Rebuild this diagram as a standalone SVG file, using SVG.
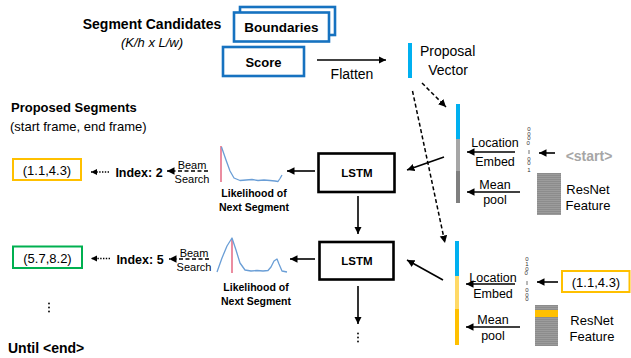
<svg xmlns="http://www.w3.org/2000/svg" width="631" height="358" viewBox="0 0 631 358">
  <style>
    text { font-family: "Liberation Sans", Arial, sans-serif; fill: #000; }
    .b { font-weight: bold; }
    .t14 { font-size: 14px; }
    .t13 { font-size: 13px; }
    .t11 { font-size: 11px; }
    .lbl { font-size: 12.5px; }
    .mid { text-anchor: middle; }
    .bluebox { fill: #fff; stroke: #1672C0; stroke-width: 2.6; }
    .lstm { fill: #fff; stroke: #000; stroke-width: 2.6; }
    .arr { stroke: #000; stroke-width: 1.6; fill: none; marker-end: url(#ah); }
    .dash { stroke: #000; stroke-width: 1.5; fill: none; stroke-dasharray: 4 2.5; marker-end: url(#ah); }
    .dot { stroke: #000; stroke-width: 1.4; fill: none; stroke-dasharray: 1.4 1.4; marker-end: url(#ahs); }
    .curve { fill: none; stroke: #6A9ED6; stroke-width: 1.3; stroke-linejoin: round; }
    .peak { stroke: #E0506E; stroke-width: 1.3; }
    .bits { font-family: "Liberation Sans", Arial, sans-serif; font-size: 6px; fill: #333; text-anchor: middle; }
    .vdots { fill: #000; }
  </style>
  <defs>
    <marker id="ah" markerUnits="userSpaceOnUse" markerWidth="9" markerHeight="8" refX="7.5" refY="3.75" orient="auto">
      <path d="M0,0 L7.5,3.75 L0,7.5 Z" fill="#000"/>
    </marker>
    <marker id="ahs" markerUnits="userSpaceOnUse" markerWidth="7" markerHeight="7" refX="6" refY="3" orient="auto">
      <path d="M0,0 L6,3 L0,6 Z" fill="#000"/>
    </marker>
    <pattern id="stripes" patternUnits="userSpaceOnUse" width="4" height="2">
      <rect width="4" height="2" fill="#8C8C8C"/>
      <rect width="4" height="0.7" fill="#A3A3A3"/>
    </pattern>
  </defs>

  <!-- segment candidate maps -->
  <g id="segment-candidates">
    <text class="b t14 mid" x="152" y="29">Segment Candidates</text>
    <text class="t13 mid" x="152" y="47" font-style="italic">(K/h x L/w)</text>
  </g>
  <g id="boundaries">
    <rect class="bluebox" x="240" y="7" width="95" height="28"/>
    <rect class="bluebox" x="234" y="12.5" width="95" height="29"/>
    <text class="b mid" font-size="13.5" x="281.5" y="32">Boundaries</text>
  </g>
  <g id="score">
    <rect class="bluebox" x="223" y="47" width="81" height="29"/>
    <text class="b t13 mid" x="263.5" y="66.5">Score</text>
  </g>

  <!-- flattened proposal vector -->
  <g id="proposal-vector">
    <rect x="408" y="43" width="4" height="35" fill="#00B0F0"/>
    <text class="t14" x="420" y="56">Proposal</text>
    <text class="t14 mid" x="448" y="75">Vector</text>
  </g>

  <!-- output column -->
  <g id="proposed-segments">
    <text class="b t13" x="11" y="112">Proposed Segments</text>
    <text class="t13" x="10" y="130.5">(start frame, end frame)</text>
  </g>
  <g id="segment-1">
    <rect x="13" y="159" width="68" height="21" fill="#fff" stroke="#FFC000" stroke-width="2"/>
    <text class="t13 mid" x="47" y="175">(1.1,4.3)</text>
  </g>
  <g id="segment-2">
    <rect x="13" y="246.5" width="69" height="21.5" fill="#fff" stroke="#00B050" stroke-width="2"/>
    <text class="t13 mid" x="47.5" y="262.5">(5.7,8.2)</text>
  </g>
  <g id="more-segments">
    <circle class="vdots" cx="49" cy="303.5" r="0.9"/>
    <circle class="vdots" cx="49" cy="307.5" r="0.9"/>
    <circle class="vdots" cx="49" cy="311.5" r="0.9"/>
  </g>
  <g id="until-end">
    <text class="b t14" x="8" y="353">Until &lt;end&gt;</text>
  </g>

  <g id="index-1"><text class="b mid" font-size="12.5" x="139" y="176.5">Index: 2</text></g>
  <g id="index-2"><text class="b mid" font-size="12.5" x="140" y="263.5">Index: 5</text></g>

  <g id="beam-search-1">
    <text class="t11 mid" x="192" y="168.5">Beam</text>
    <text class="t11 mid" x="192" y="183">Search</text>
  </g>
  <g id="beam-search-2">
    <text class="t11 mid" x="194" y="256.5">Beam</text>
    <text class="t11 mid" x="194" y="271">Search</text>
  </g>

  <!-- likelihood curves -->
  <g id="likelihood-1">
    <line class="peak" x1="221" y1="146" x2="221" y2="182"/>
    <polyline class="curve" points="221.5,147 226,160 230,171 234,178 240,180.5 246,180 252,179.5 258,180.5 264,180 270,180.5 275,181 278,181.5 280,178.5 282,175"/>
    <text class="b mid" font-size="10.5" x="254" y="197">Likelihood of</text>
    <text class="b mid" font-size="10.5" x="254" y="211">Next Segment</text>
  </g>
  <g id="likelihood-2">
    <line class="peak" x1="232" y1="239" x2="232" y2="273"/>
    <polyline class="curve" points="217,272 222,258 227,246 232,238 236,250 240,263 245,270 251,271 257,270.5 263,271 268,270.5 271,267 274,261 277,259 279,264 282,271 287,272"/>
    <text class="b mid" font-size="10.5" x="256" y="291">Likelihood of</text>
    <text class="b mid" font-size="10.5" x="256" y="305">Next Segment</text>
  </g>

  <!-- recurrent cells -->
  <g id="lstm-1">
    <rect class="lstm" x="318.5" y="153.5" width="76" height="38.5"/>
    <text class="b mid" font-size="11.5" x="357" y="177">LSTM</text>
  </g>
  <g id="lstm-2">
    <rect class="lstm" x="319.5" y="242" width="74" height="37.5"/>
    <text class="b mid" font-size="11.5" x="357" y="264.5">LSTM</text>
  </g>
  <g id="lstm-continue">
    <circle class="vdots" cx="358" cy="333.5" r="0.9"/>
    <circle class="vdots" cx="358" cy="337.5" r="0.9"/>
    <circle class="vdots" cx="358" cy="341.5" r="0.9"/>
  </g>

  <!-- step 1 input: proposal | location embedding | pooled feature -->
  <g id="input-vector-1">
    <rect x="456" y="104" width="4" height="35" fill="#00B0F0"/>
    <rect x="456" y="139" width="4" height="32" fill="#A6A6A6"/>
    <rect x="456" y="171" width="4" height="32" fill="#7F7F7F"/>
  </g>
  <g id="location-embed-1">
    <text class="lbl mid" x="495" y="147">Location</text>
    <text class="lbl mid" x="495" y="165.5">Embed</text>
  </g>
  <g id="mean-pool-1">
    <text class="lbl mid" x="495" y="189">Mean</text>
    <text class="lbl mid" x="495" y="204">pool</text>
  </g>
  <g id="one-hot-1">
    <text class="bits">
      <tspan x="529" y="131">0</tspan><tspan x="529" y="135.5">0</tspan><tspan x="529" y="140">0</tspan><tspan x="529" y="144.5">0</tspan>
      <tspan x="529" y="160.5">0</tspan><tspan x="529" y="165">0</tspan><tspan x="529" y="172">1</tspan>
    </text>
    <line x1="529" y1="150" x2="529" y2="154" stroke="#333" stroke-width="0.7"/>
  </g>
  <g id="start-token">
    <text class="b t14 mid" x="589" y="161" style="fill:#A6A6A6">&lt;start&gt;</text>
  </g>
  <g id="resnet-1">
    <rect x="537" y="173" width="24" height="42" fill="url(#stripes)"/>
    <text class="t13 mid" x="588" y="193.5">ResNet</text>
    <text class="t13 mid" x="588" y="209.5">Feature</text>
  </g>

  <!-- step 2 input -->
  <g id="input-vector-2">
    <rect x="455" y="241" width="4" height="35" fill="#00B0F0"/>
    <rect x="455" y="276" width="4" height="33" fill="#FFD966"/>
    <rect x="455" y="309" width="4" height="36" fill="#FFC000"/>
  </g>
  <g id="location-embed-2">
    <text class="lbl mid" x="493" y="281.5">Location</text>
    <text class="lbl mid" x="493" y="298">Embed</text>
  </g>
  <g id="mean-pool-2">
    <text class="lbl mid" x="493" y="323.5">Mean</text>
    <text class="lbl mid" x="493" y="340">pool</text>
  </g>
  <g id="one-hot-2">
    <text class="bits">
      <tspan x="527" y="261">0</tspan><tspan x="527" y="266">1</tspan><tspan x="527" y="270.5">0</tspan><tspan x="527" y="275">0</tspan>
      <tspan x="527" y="292">0</tspan><tspan x="527" y="296.5">0</tspan><tspan x="527" y="301">0</tspan>
    </text>
    <line x1="527" y1="281" x2="527" y2="285" stroke="#333" stroke-width="0.7"/>
  </g>
  <g id="prev-segment">
    <rect x="562" y="271" width="67.5" height="21" fill="#fff" stroke="#FFC000" stroke-width="2"/>
    <text class="t13 mid" x="596" y="286.5">(1.1,4.3)</text>
  </g>
  <g id="resnet-2">
    <rect x="535" y="305" width="23" height="41" fill="url(#stripes)"/>
    <rect x="535" y="310" width="23" height="7" fill="#FFC000"/>
    <text class="t13 mid" x="592" y="324.5">ResNet</text>
    <text class="t13 mid" x="592" y="340.5">Feature</text>
  </g>

  <!-- connectors -->
  <g id="connectors">
    <line class="arr" x1="317" y1="60" x2="386" y2="60"/>
    <text class="t14 mid" x="352" y="79" id="flatten-label">Flatten</text>
    <line class="dash" x1="422" y1="83" x2="446" y2="107"/>
    <line class="dash" x1="412.5" y1="91" x2="445" y2="243"/>

    <line class="arr" x1="444" y1="157" x2="407" y2="170"/>
    <line class="arr" x1="443" y1="280" x2="407" y2="260"/>

    <line class="arr" x1="515" y1="152" x2="467" y2="152"/>
    <line class="arr" x1="520" y1="192" x2="467" y2="192"/>
    <line class="arr" x1="555" y1="153" x2="539" y2="153"/>

    <line class="arr" x1="515" y1="284" x2="466" y2="284"/>
    <line class="arr" x1="520" y1="327" x2="466" y2="327"/>
    <line class="arr" x1="558" y1="282" x2="537" y2="282"/>

    <line class="arr" x1="358" y1="196" x2="358" y2="234"/>
    <line class="arr" x1="358" y1="286" x2="358" y2="324"/>

    <line class="arr" x1="315" y1="171" x2="287" y2="171"/>
    <line class="arr" x1="315" y1="259" x2="290" y2="259"/>

    <line class="dash" x1="208" y1="171" x2="167" y2="171"/>
    <line class="dash" x1="209" y1="259" x2="169" y2="259"/>

    <line class="dot" x1="109" y1="172" x2="91" y2="172"/>
    <line class="dot" x1="110" y1="258.5" x2="91" y2="258.5"/>
  </g>
</svg>
